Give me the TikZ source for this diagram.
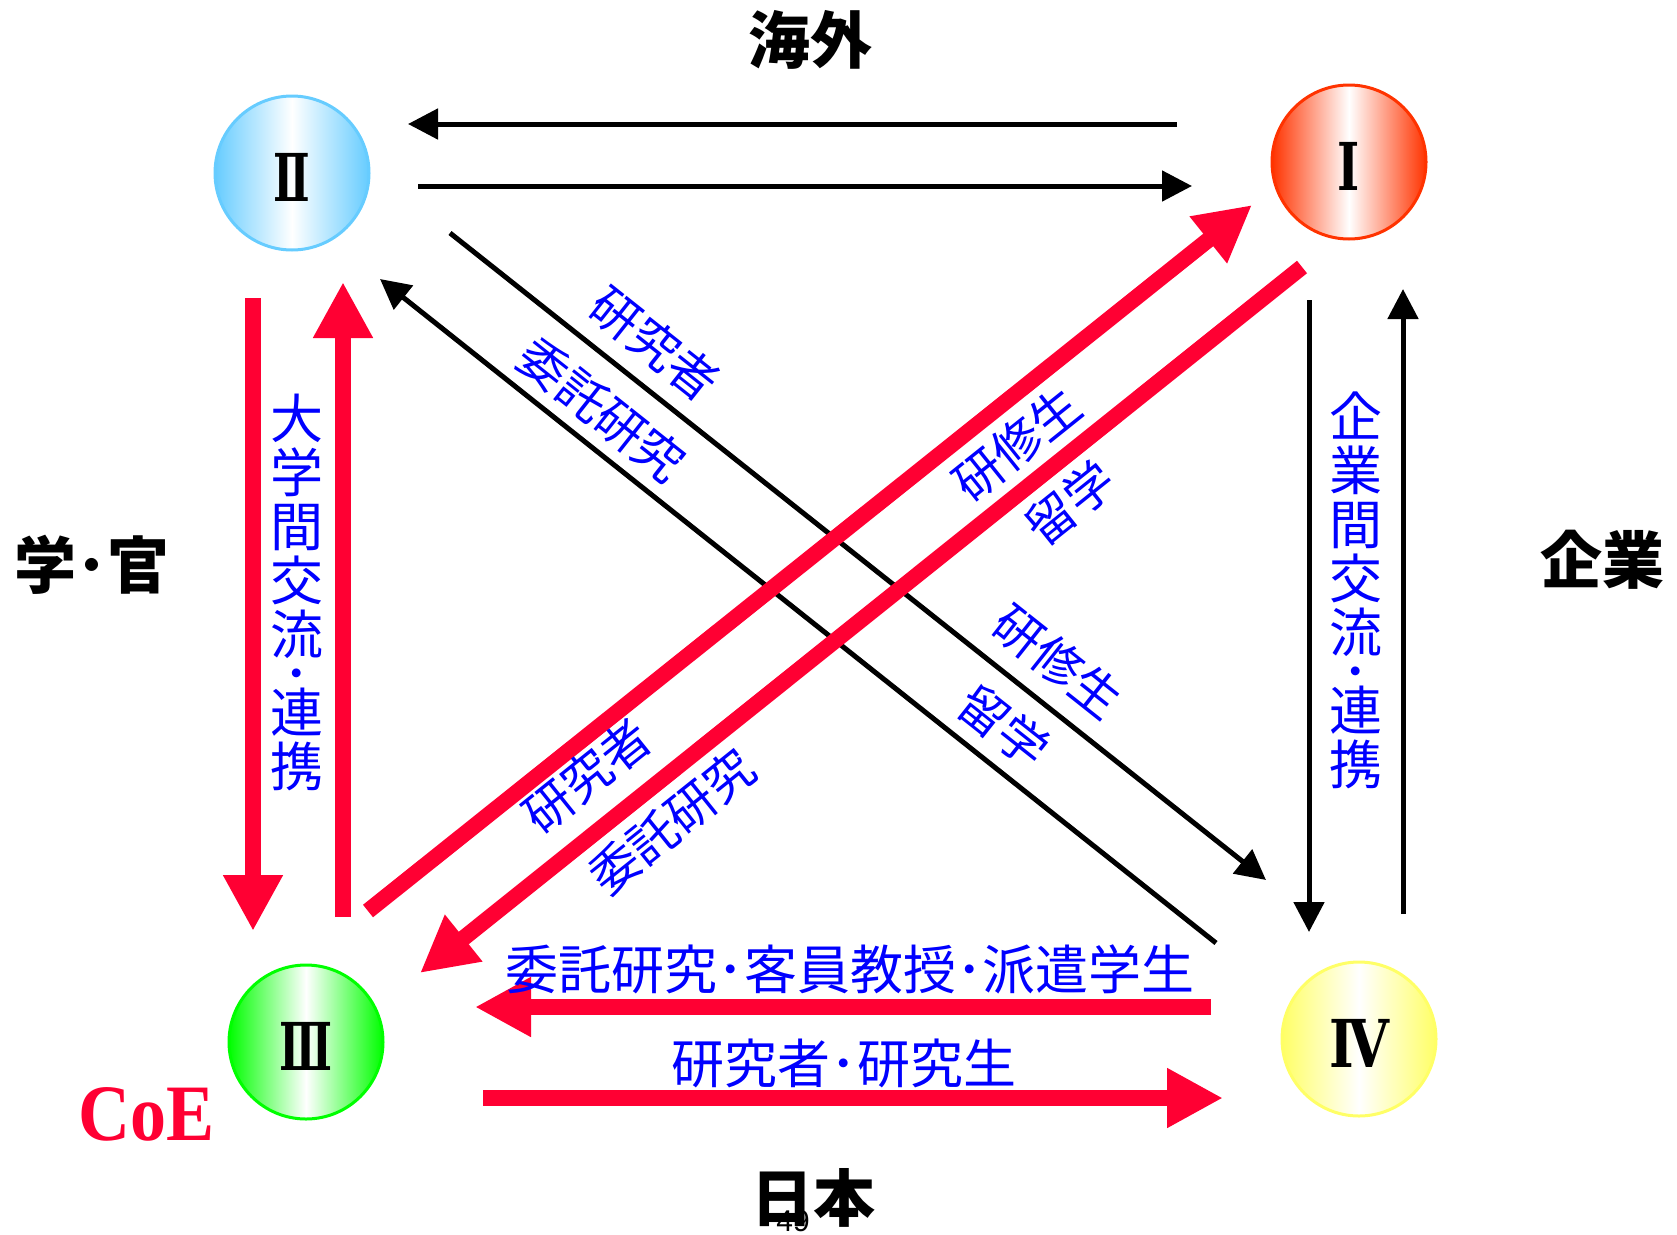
\documentclass[tikz,border=0pt]{standalone}
\usepackage{fontspec}
\usetikzlibrary{arrows.meta}
\setmainfont{Liberation Serif}
\newfontfamily\jp{Noto Sans CJK JP}
\newfontfamily\romf{DejaVu Serif}
\newfontfamily\lsans{Liberation Sans}
\definecolor{cred}{RGB}{255,0,51}
\definecolor{cblue}{RGB}{102,204,255}
\definecolor{corange}{RGB}{255,51,0}
\definecolor{cgreen}{RGB}{0,255,0}
\definecolor{cyellow}{RGB}{255,255,102}
\tikzset{
  ball/.style={circle, minimum size=154pt, inner sep=0pt, line width=3pt, draw=#1, left color=#1, right color=#1, middle color=white},
  numeral/.style={font=\romf\bfseries\fontsize{66}{66}\selectfont, inner sep=0pt},
  blkarrow/.style={draw=black, line width=5pt, -{Triangle[length=30pt,width=30pt]}},
  redarrow/.style={draw=cred, line width=16pt, -{Triangle[length=56pt,width=56pt]}},
  bluetxt/.style={text=blue, font=\jp\fontsize{53}{54}\selectfont, inner sep=0pt},
  diagtxt/.style={text=blue, font=\jp\fontsize{49}{49}\selectfont, inner sep=0pt},
  region/.style={font=\jp\bfseries\fontsize{62}{62}\selectfont, inner sep=0pt}
}
\begin{document}
\begin{tikzpicture}[x=1pt,y=-1pt]
\useasboundingbox (0,0) rectangle (1677,1234);
% circles
\node[ball=corange] (c1) at (1349,162) {};
\node[ball=cblue] (c2) at (292,173) {};
\node[ball=cgreen] (c3) at (306,1042) {};
\node[ball=cyellow] (c4) at (1359,1039) {};
\node[numeral, xscale=0.72] (n1) at (1349,166) {Ⅰ};
\node[numeral, xscale=0.66] (n2) at (292,177) {Ⅱ};
\node[numeral, xscale=0.66] (n3) at (306,1046) {Ⅲ};
\node[numeral, xscale=0.8] (n4) at (1359,1043) {Ⅳ};
% coordinates
\coordinate (t1s) at (1177,124); \coordinate (t1e) at (408,124);
\coordinate (t2s) at (418,186);  \coordinate (t2e) at (1192,186);
\coordinate (dAs) at (450,233);  \coordinate (dAe) at (1266,880);
\coordinate (dBs) at (1216,943); \coordinate (dBe) at (380,279);
\coordinate (rDs) at (1309,300); \coordinate (rDe) at (1309,932);
\coordinate (rUs) at (1403,914); \coordinate (rUe) at (1403,289);
\coordinate (lDs) at (253,298);  \coordinate (lDe) at (253,931);
\coordinate (lUs) at (343,917);  \coordinate (lUe) at (343,282);
\coordinate (x1s) at (368,911);  \coordinate (x1e) at (1252,205);
\coordinate (x2s) at (1302,267); \coordinate (x2e) at (420,973);
\coordinate (b1s) at (1211,1007); \coordinate (b1e) at (475,1007);
\coordinate (b2s) at (483,1098);  \coordinate (b2e) at (1223,1098);
% black arrows
\draw[blkarrow] (t1s) -- (t1e);
\draw[blkarrow] (t2s) -- (t2e);
\draw[blkarrow] (dAs) -- (dAe);
\draw[blkarrow] (dBs) -- (dBe);
\draw[blkarrow] (rDs) -- (rDe);
\draw[blkarrow] (rUs) -- (rUe);
% red arrows
\draw[redarrow] (lDs) -- (lDe);
\draw[redarrow] (lUs) -- (lUe);
\draw[redarrow] (x1s) -- (x1e);
\draw[redarrow] (x2s) -- (x2e);
\draw[redarrow] (b1s) -- (b1e);
\draw[redarrow] (b2s) -- (b2e);
% blue labels
\node[bluetxt, align=center] (vl) at (297,592) {大\\学\\間\\交\\流\\[-15pt]･\\[-15pt]連\\携};
\node[bluetxt, align=center] (vr) at (1356,590) {企\\業\\間\\交\\流\\[-15pt]･\\[-15pt]連\\携};
\node[bluetxt] (bt1) at (850,969) {委託研究･客員教授･派遣学生};
\node[bluetxt] (bt2) at (844,1063) {研究者･研究生};
\node[diagtxt, rotate=-38.4] (d1) at (655,344) {研究者};
\node[diagtxt, rotate=-38.4] (d2) at (602,410) {委託研究};
\node[diagtxt, rotate=-38.4] (d3) at (1058,662) {研修生};
\node[diagtxt, rotate=-38.4] (d4) at (1004,726) {留学};
\node[diagtxt, rotate=38.7] (d5) at (1017,444) {研修生};
\node[diagtxt, rotate=38.7] (d6) at (1070,503) {留学};
\node[diagtxt, rotate=38.7] (d7) at (587,776) {研究者};
\node[diagtxt, rotate=38.7] (d8) at (672,822) {委託研究};
% region labels
\node[region] (top) at (810,40) {海外};
\node[region] (left) at (92,565) {学･官};
\node[region] (right) at (1602,560) {企業};
\node[region] (bottom) at (813,1198) {日本};
\node[text=cred, font=\bfseries\fontsize{80}{80}\selectfont, inner sep=0pt, xscale=0.9] (coe) at (147,1114) {CoE};
\node[font=\lsans\fontsize{30}{30}\selectfont, inner sep=0pt] (pg) at (793,1221) {49};
\end{tikzpicture}
\end{document}
